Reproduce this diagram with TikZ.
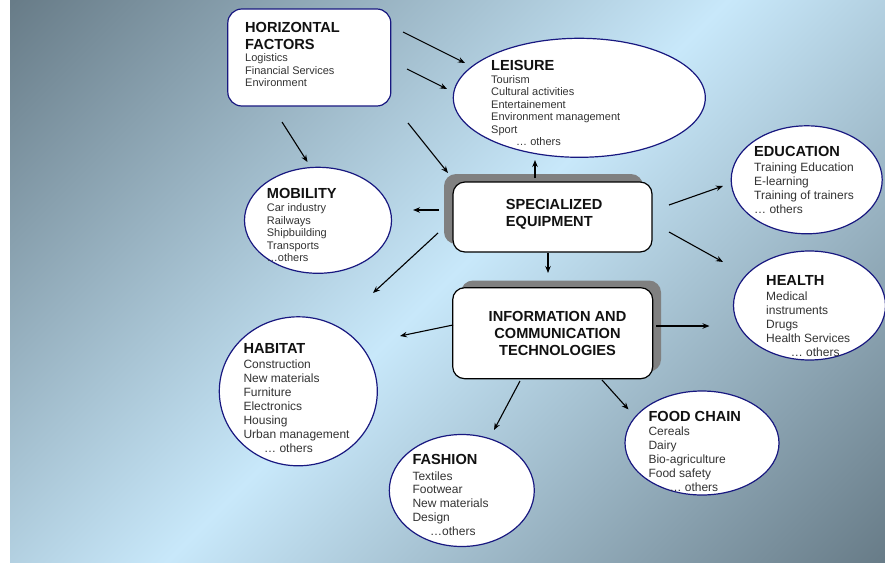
\documentclass[tikz,border=0pt]{standalone}
\usepackage{fontspec}
\setmainfont{Liberation Sans}
\usetikzlibrary{arrows.meta,shapes.geometric}

\definecolor{bgdark}{RGB}{104,124,136}
\definecolor{bglight}{RGB}{200,232,250}
\definecolor{rimblue}{RGB}{24,24,128}
\definecolor{headink}{RGB}{17,17,17}
\definecolor{itemink}{RGB}{51,51,51}
\definecolor{shadowgray}{RGB}{128,128,128}

% sky-like backdrop: dark in two opposite corners, light along the other diagonal
\pgfdeclareverticalshading{diagsky}{100bp}{color(0bp)=(bgdark); color(14.64bp)=(bgdark);
  color(50bp)=(bglight); color(85.36bp)=(bgdark); color(100bp)=(bgdark)}

% stacked lines whose baseline is that of the first line
\newcommand\leftlines[1]{\begin{tabular}[t]{@{}l@{}}#1\end{tabular}}
\newcommand\centerlines[1]{\begin{tabular}[t]{@{}c@{}}#1\end{tabular}}

\tikzset{
  bubble/.style={ellipse, draw=rimblue, line width=1.2pt, fill=white, inner sep=0pt},
  sectorbox/.style={rectangle, rounded corners=14pt, draw=rimblue, line width=1.2pt,
    fill=white, inner sep=0pt},
  corebox/.style={rectangle, rounded corners=12pt, draw=black, line width=1.2pt,
    fill=white, inner sep=0pt},
  coreshadow/.style={rectangle, rounded corners=12pt, fill=shadowgray, inner sep=0pt},
  heading/.style={anchor=base west, inner sep=0pt, text=headink,
    font=\bfseries\fontsize{14.6}{16.8}\selectfont},
  coretext/.style={inner sep=0pt, text=headink, font=\bfseries\fontsize{14.6}{17}\selectfont},
  smallitems/.style={anchor=base west, inner sep=0pt, text=itemink,
    font=\fontsize{11}{12.6}\selectfont},
  items/.style={anchor=base west, inner sep=0pt, text=itemink,
    font=\fontsize{12}{14}\selectfont},
  link/.style={-{Stealth[length=7pt,width=5.5pt]}, line width=1.1pt, black},
}

\begin{document}
\begin{tikzpicture}[x=1pt,y=-1pt]
  % canvas and backdrop
  \fill[white] (0,0) rectangle (885,562);
  \useasboundingbox (0,0) rectangle (885,562);
  \shade[shading=diagsky, shading angle=45] (10,0) rectangle (885,562);

  % cross-cutting factors
  \node[sectorbox, minimum width=163pt, minimum height=97pt] (hf) at (309.3,57.5) {};
  \node[heading] (hft) at (245,32.3) {\leftlines{HORIZONTAL\\FACTORS}};
  \node[smallitems] (hfi) at (245,61.7) {\leftlines{Logistics\\Financial Services\\Environment}};

  % application sectors
  \node[bubble, minimum width=252pt, minimum height=119pt] (lei) at (579.3,97.8) {};
  \node[heading] (leit) at (491,70.5) {LEISURE};
  \node[smallitems, font=\fontsize{11}{12.5}\selectfont] (leii) at (491,83.3)
    {\leftlines{Tourism\\Cultural activities\\Entertainement\\Environment management\\Sport\\\hspace*{25pt}… others}};

  \node[bubble, minimum width=151pt, minimum height=108pt] (edu) at (806.7,179.8) {};
  \node[heading] (edut) at (754,156.7) {EDUCATION};
  \node[items, font=\fontsize{12}{14.1}\selectfont] (edui) at (754,171)
    {\leftlines{Training Education\\E-learning\\Training of trainers\\… others}};

  \node[bubble, minimum width=152pt, minimum height=109pt] (hea) at (809.5,305.5) {};
  \node[heading] (heat) at (766,285.5) {HEALTH};
  \node[items] (heai) at (766,300)
    {\leftlines{Medical\\instruments\\Drugs\\Health Services\\\hspace*{24.7pt}… others}};

  \node[bubble, minimum width=147pt, minimum height=106pt] (mob) at (318,220.3) {};
  \node[heading] (mobt) at (266.7,198) {MOBILITY};
  \node[smallitems, font=\fontsize{11}{12.5}\selectfont] (mobi) at (266.7,211.7)
    {\leftlines{Car industry\\Railways\\Shipbuilding\\Transports\\…others}};

  \node[bubble, minimum width=158pt, minimum height=149pt] (hab) at (298.3,391.3) {};
  \node[heading] (habt) at (243.3,353.3) {HABITAT};
  \node[items] (habi) at (243.3,368.3)
    {\leftlines{Construction\\New materials\\Furniture\\Electronics\\Housing\\Urban management\\\hspace*{20.7pt}… others}};

  \node[bubble, minimum width=145pt, minimum height=112pt] (fas) at (461.8,490.5) {};
  \node[heading] (fast) at (412.3,464) {FASHION};
  \node[items, font=\fontsize{12}{13.9}\selectfont] (fasi) at (412.3,480)
    {\leftlines{Textiles\\Footwear\\New materials\\Design\\\hspace*{17.7pt}…others}};

  \node[bubble, minimum width=154pt, minimum height=104pt] (food) at (702,443) {};
  \node[heading] (foodt) at (648.3,421.5) {FOOD CHAIN};
  \node[items] (foodi) at (648.3,435.6)
    {\leftlines{Cereals\\Dairy\\Bio-agriculture\\Food safety\\\hspace*{21pt}… others}};

  % enabling technologies
  \node[coreshadow, minimum width=199pt, minimum height=70pt] (specsh) at (543.5,209) {};
  \node[corebox, minimum width=199pt, minimum height=70pt] (spec) at (552.5,217) {};
  \node[coretext, anchor=base west] (spect) at (505.7,209)
    {\leftlines{SPECIALIZED\\EQUIPMENT}};

  \node[coreshadow, minimum width=200pt, minimum height=91pt] (ictsh) at (561,326) {};
  \node[corebox, minimum width=200pt, minimum height=91pt] (ict) at (552.7,333.2) {};
  \node[coretext, anchor=base] (ictt) at (557.5,321.3)
    {\centerlines{INFORMATION AND\\COMMUNICATION\\TECHNOLOGIES}};

  % arrow end points
  \coordinate (hf-lei1-s) at (403,32);   \coordinate (hf-lei1-e) at (465,63);
  \coordinate (hf-lei2-s) at (407,69);   \coordinate (hf-lei2-e) at (447,89);
  \coordinate (hf-mob-s) at (282,122);   \coordinate (hf-mob-e) at (307.5,162);
  \coordinate (hf-spec-s) at (408,123);  \coordinate (hf-spec-e) at (448,173);
  \coordinate (spec-lei-s) at (535,178); \coordinate (spec-lei-e) at (535,160);
  \coordinate (spec-mob-s) at (439,210); \coordinate (spec-mob-e) at (413,210);
  \coordinate (spec-hab-s) at (438,233); \coordinate (spec-hab-e) at (373,293);
  \coordinate (spec-ict-s) at (548,253); \coordinate (spec-ict-e) at (548,273);
  \coordinate (spec-edu-s) at (669,205); \coordinate (spec-edu-e) at (723,186);
  \coordinate (spec-hea-s) at (669,232); \coordinate (spec-hea-e) at (723,262);
  \coordinate (ict-hab-s) at (453,325);  \coordinate (ict-hab-e) at (400,336);
  \coordinate (ict-hea-s) at (656,326);  \coordinate (ict-hea-e) at (709.5,326);
  \coordinate (ict-fas-s) at (520,381);  \coordinate (ict-fas-e) at (494,430);
  \coordinate (ict-food-s) at (602,380); \coordinate (ict-food-e) at (628.5,409.5);

  % arrows
  \draw[link] (hf-lei1-s) -- (hf-lei1-e);
  \draw[link] (hf-lei2-s) -- (hf-lei2-e);
  \draw[link] (hf-mob-s) -- (hf-mob-e);
  \draw[link] (hf-spec-s) -- (hf-spec-e);
  \draw[link] (spec-lei-s) -- (spec-lei-e);
  \draw[link] (spec-mob-s) -- (spec-mob-e);
  \draw[link] (spec-hab-s) -- (spec-hab-e);
  \draw[link] (spec-ict-s) -- (spec-ict-e);
  \draw[link] (spec-edu-s) -- (spec-edu-e);
  \draw[link] (spec-hea-s) -- (spec-hea-e);
  \draw[link] (ict-hab-s) -- (ict-hab-e);
  \draw[link] (ict-hea-s) -- (ict-hea-e);
  \draw[link] (ict-fas-s) -- (ict-fas-e);
  \draw[link] (ict-food-s) -- (ict-food-e);
\end{tikzpicture}
\end{document}
